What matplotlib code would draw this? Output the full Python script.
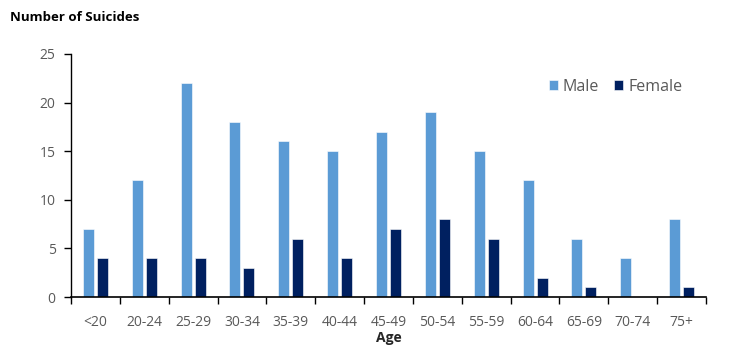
import matplotlib.pyplot as plt
import numpy as np

ages = ["<20", "20-24", "25-29", "30-34", "35-39", "40-44", "45-49",
        "50-54", "55-59", "60-64", "65-69", "70-74", "75+"]
male = [7, 12, 22, 18, 16, 15, 17, 19, 15, 12, 6, 4, 8]
female = [4, 4, 4, 3, 6, 4, 7, 8, 6, 2, 1, 0, 1]

plt.rcParams['font.family'] = ['Open Sans', 'DejaVu Sans']
grey = "#595959"

fig = plt.figure(figsize=(7.44, 3.46), dpi=100)
ax = fig.add_axes([0.0954, 0.1416, 0.8536, 0.7024])

x = np.arange(len(ages))
w = 0.225
ax.bar(x - 0.143, male, w, color="#5B9BD5", label="Male", edgecolor="white", linewidth=0.4)
ax.bar(x + 0.143, female, w, color="#002060", label="Female", edgecolor="white", linewidth=0.4)

ax.set_xlim(-0.5, len(ages) - 0.5)
ax.set_ylim(0, 25)
ax.set_yticks(range(0, 26, 5))
ax.set_xticks(x)
ax.set_xticklabels(ages)
ax.set_xticks(np.arange(-0.5, len(ages), 1), minor=True)
ax.tick_params(axis="x", which="major", length=0, pad=13, labelsize=10, labelcolor=grey)
ax.tick_params(axis="x", which="minor", length=5, width=1, direction="out", color="black")
ax.tick_params(axis="y", length=5, width=1, direction="out", labelsize=10, labelcolor=grey, pad=6)

for s in ["top", "right"]:
    ax.spines[s].set_visible(False)
ax.spines["left"].set_linewidth(1)
ax.spines["bottom"].set_linewidth(1.2)

ax.set_xlabel("Age", fontsize=10, fontweight="bold", color="#262626", labelpad=1)
fig.text(0.013, 0.95, "Number of Suicides", fontsize=9.5, fontweight="bold", color="black", va="center")

ax.legend(loc="center right", bbox_to_anchor=(0.985, 0.864), ncol=2, frameon=False,
          fontsize=11.5, labelcolor=grey, handlelength=0.6, handleheight=0.6,
          handletextpad=0.3, columnspacing=0.9)

fig.savefig("out.png", dpi=100)
